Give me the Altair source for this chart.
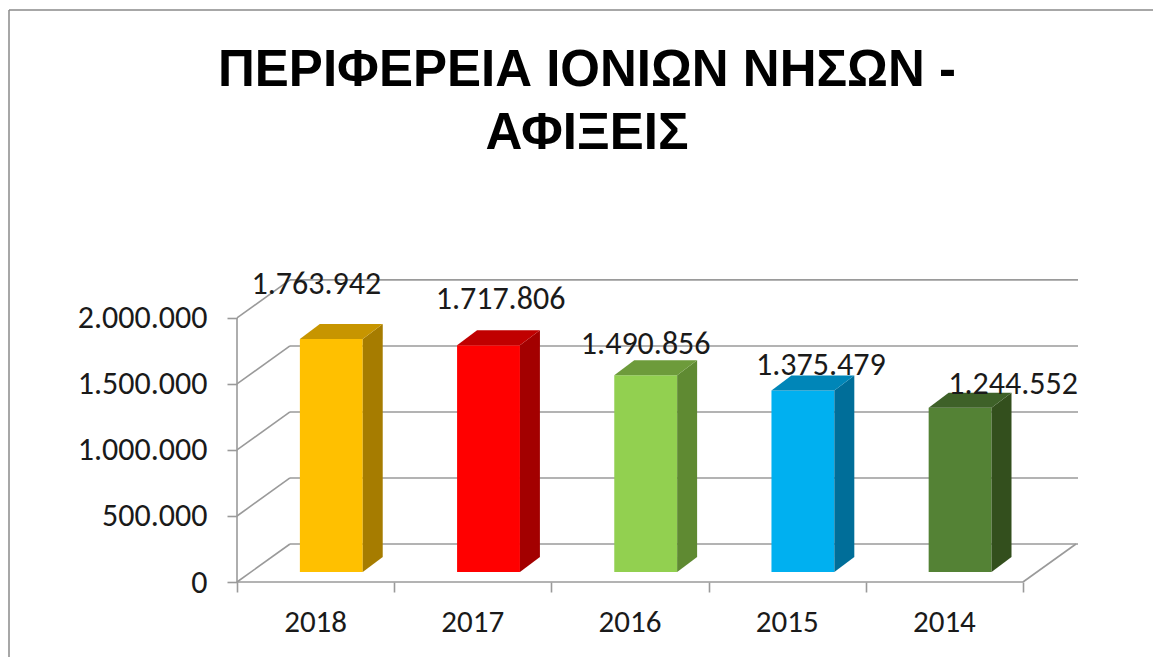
import altair as alt
import pandas as pd

# ---- data ----
years = ["2018", "2017", "2016", "2015", "2014"]
arrivals = [1763942, 1717806, 1490856, 1375479, 1244552]
front_colors = ["#FFC000", "#FF0000", "#92D050", "#00B0F0", "#548235"]
side_colors = ["#A67C00", "#A30000", "#5F8A32", "#006E99", "#334F1D"]
top_colors = ["#C79500", "#C00000", "#6D9B3B", "#0086B8", "#3E6128"]
y_ticks = [0, 500000, 1000000, 1500000, 2000000]
title_lines = ["ΠΕΡΙΦΕΡΕΙΑ ΙΟΝΙΩΝ ΝΗΣΩΝ -", "ΑΦΙΞΕΙΣ"]

# ---- geometry / style ----
W, H = 841, 303
PAD_L, PAD_T, PAD_R, PAD_B = 237, 279, 75, 75
N = len(years)
XMAX = 5.35
YMAX = 2295000
BACK_DX, BACK_DY = 0.337, 288000
BAR_L, BAR_R = 0.40, 0.80
BASE = 75700
SIDE_DX, SIDE_DY = 0.127, 113600
GRID = "#9a9a9a"
TXT = "#1a1a1a"
LABEL_FONT = "Calibri, Carlito, Lato, Liberation Sans, sans-serif"
TITLE_FONT = "Liberation Sans, Arial, sans-serif"

xs = alt.Scale(domain=[0, XMAX], nice=False, zero=False)
ys = alt.Scale(domain=[0, YMAX], nice=False, zero=False)

fmt_expr = "replace(replace(format(datum.value, ','), ',', '.'), ',', '.')"
XA = alt.Axis(values=list(range(N + 1)), labels=False, domain=False, grid=False,
              tickSize=10, tickColor=GRID, tickWidth=1.6, title=None)
YA = alt.Axis(values=y_ticks, labelExpr=fmt_expr, domain=False, grid=False,
              tickSize=10, tickColor=GRID, tickWidth=1.6, labelPadding=20,
              labelFont=LABEL_FONT, labelFontSize=32, labelColor=TXT, title=None)


def X(f):
    return alt.X(f, scale=xs, axis=XA)


def Y(f):
    return alt.Y(f, scale=ys, axis=YA)


bars = pd.DataFrame({
    "idx": list(range(N)),
    "year": years,
    "value": arrivals,
    "front": front_colors,
    "side": side_colors,
    "top": top_colors,
})
bars["x0"] = bars["idx"] + BAR_L
bars["x1"] = bars["idx"] + BAR_R
bars["xc"] = bars["idx"] + (BAR_L + BAR_R) / 2
bars["y0"] = BASE
bars["y1"] = bars["value"] + BASE
bars["lab"] = [f"{v:,}".replace(",", ".") for v in arrivals]
bars["cat_x"] = bars["idx"] + 0.5
bars["zero"] = 0

side_rows, top_rows = [], []
for i, (y, v) in enumerate(zip(years, arrivals)):
    t = v + BASE
    side_rows += [
        {"year": y, "c": side_colors[i], "x": i + BAR_R, "lo": BASE, "hi": t},
        {"year": y, "c": side_colors[i], "x": i + BAR_R + SIDE_DX, "lo": BASE + SIDE_DY, "hi": t + SIDE_DY},
    ]
    top_rows += [
        {"year": y, "c": top_colors[i], "x": i + BAR_L, "lo": t, "hi": t},
        {"year": y, "c": top_colors[i], "x": i + BAR_L + SIDE_DX, "lo": t, "hi": t + SIDE_DY},
        {"year": y, "c": top_colors[i], "x": i + BAR_R, "lo": t, "hi": t + SIDE_DY},
        {"year": y, "c": top_colors[i], "x": i + BAR_R + SIDE_DX, "lo": t + SIDE_DY, "hi": t + SIDE_DY},
    ]
side_df = pd.DataFrame(side_rows)
top_df = pd.DataFrame(top_rows)

# frame / grid lines
lines = []
for t in y_ticks:
    lines.append({"x": BACK_DX, "x2": XMAX, "y": t + BACK_DY, "y2": t + BACK_DY})  # back wall grid
    lines.append({"x": 0, "x2": BACK_DX, "y": t, "y2": t + BACK_DY})  # side wall diagonals
lines.append({"x": 0, "x2": 0, "y": 0, "y2": max(y_ticks)})  # front vertical axis
lines.append({"x": 0, "x2": N, "y": 0, "y2": 0})  # floor front edge
lines.append({"x": N, "x2": N + BACK_DX, "y": 0, "y2": BACK_DY})  # floor right edge
lines_df = pd.DataFrame(lines)

grid = alt.Chart(lines_df).mark_rule(color=GRID, strokeWidth=1.6).encode(
    x=X("x:Q"), x2="x2:Q", y=Y("y:Q"), y2="y2:Q",
)

front = alt.Chart(bars).mark_rect().encode(
    x=X("x0:Q"), x2="x1:Q", y=Y("y0:Q"), y2="y1:Q",
    color=alt.Color("front:N", scale=None),
)

side = alt.Chart(side_df).mark_area(orient="vertical", interpolate="linear").encode(
    x=X("x:Q"), y=Y("lo:Q"), y2="hi:Q",
    color=alt.Color("c:N", scale=None), detail="year:N",
)

top = alt.Chart(top_df).mark_area(orient="vertical", interpolate="linear").encode(
    x=X("x:Q"), y=Y("lo:Q"), y2="hi:Q",
    color=alt.Color("c:N", scale=None), detail="year:N",
)

cats = alt.Chart(bars).mark_text(
    font=LABEL_FONT, fontSize=31, color=TXT, baseline="middle", dy=41
).encode(
    x=X("cat_x:Q"), y=Y("zero:Q"), text="year:N",
)

label_nudge = [(-15, -55), (12, -46), (0, -31), (18, -25), (53, -24)]
value_labels = []
for yr, (ddx, ddy) in zip(years, label_nudge):
    value_labels.append(
        alt.Chart(bars).transform_filter(alt.datum.year == yr).mark_text(
            font=LABEL_FONT, fontSize=32, color=TXT, baseline="middle", dx=ddx, dy=ddy
        ).encode(
            x=X("xc:Q"), y=Y("y1:Q"), text="lab:N",
        )
    )

title_df = pd.DataFrame({"k": [0]})
title = alt.Chart(title_df).mark_text(
    font=TITLE_FONT, fontSize=51, fontWeight="bold", color="#000000",
    baseline="middle", lineHeight=63
).encode(text=alt.value(title_lines), x=alt.value(350), y=alt.value(71 - PAD_T))

border_df = pd.DataFrame({"k": [0]})
border_top = alt.Chart(border_df).mark_rule(color="#8a8a8a", strokeWidth=1.5).encode(
    x=alt.value(9 - PAD_L), x2=alt.value(W + PAD_R), y=alt.value(10 - PAD_T))
border_left = alt.Chart(border_df).mark_rule(color="#8a8a8a", strokeWidth=1.5).encode(
    x=alt.value(9 - PAD_L), y=alt.value(10 - PAD_T), y2=alt.value(H + PAD_B))

chart = alt.layer(
    border_top, border_left, grid, front, side, top, cats, *value_labels, title
).properties(
    width=W, height=H,
    autosize=alt.AutoSizeParams(type="none"),
    padding={"left": PAD_L, "top": PAD_T, "right": PAD_R, "bottom": PAD_B},
    background="white",
).configure_view(stroke=None)

chart.save("out.html", embed_options={"renderer": "svg", "actions": False})
